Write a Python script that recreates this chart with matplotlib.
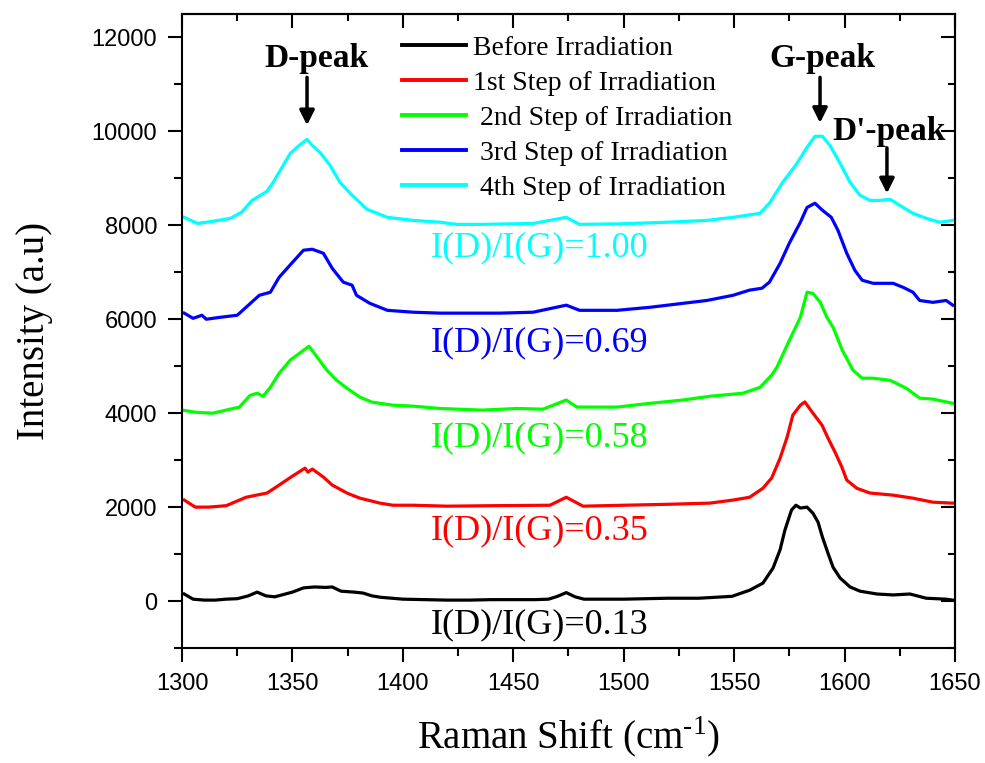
import matplotlib
matplotlib.use("Agg")
import matplotlib.pyplot as plt
from matplotlib.ticker import MultipleLocator

plt.rcParams["mathtext.fontset"] = "custom"
plt.rcParams["mathtext.rm"] = "Liberation Serif"

SERIF = "Liberation Serif"
SANS = "Liberation Sans"

# Raman spectra (cm^-1, intensity in a.u.), vertically stacked by 2000 per step
before_x = [1301, 1305, 1310, 1315, 1320, 1325, 1330, 1334, 1338, 1342, 1346, 1350, 1355, 1360,
            1365, 1368, 1372, 1378, 1382, 1386, 1390, 1395, 1400, 1410, 1420, 1430, 1440, 1450,
            1460, 1466, 1470, 1474, 1478, 1482, 1490, 1500, 1510, 1520, 1534, 1549, 1557, 1563,
            1567.6, 1570.8, 1573, 1576, 1578, 1580, 1583, 1585.7, 1588, 1590, 1592.5, 1594.8,
            1598, 1602.5, 1607, 1614.7, 1622, 1629.6, 1637, 1646, 1649]
before_y = [150, 40, 20, 20, 40, 50, 110, 190, 110, 90, 140, 190, 280, 300,
            290, 300, 210, 190, 170, 110, 80, 60, 40, 30, 20, 20, 30, 30,
            30, 40, 100, 180, 90, 40, 40, 40, 50, 60, 60, 100, 230, 380,
            700, 1090, 1510, 1940, 2040, 1980, 2000, 1870, 1680, 1360, 1020, 720,
            490, 300, 210, 150, 130, 150, 60, 40, 20]

step1_x = [1301, 1306, 1312, 1320, 1329, 1338.5, 1344, 1350, 1355.7, 1357, 1359, 1364, 1368,
           1374.7, 1377, 1380.6, 1389.6, 1395.5, 1404.6, 1420, 1440, 1466.6, 1474, 1481.6, 1500,
           1520, 1539, 1549.5, 1557, 1563, 1567, 1570.8, 1574, 1576.6, 1580, 1582, 1585.7,
           1589.8, 1592.5, 1595.7, 1598.8, 1601, 1605.6, 1611.5, 1622, 1631, 1640, 1649]
step1_y = [2150, 2000, 2000, 2030, 2210, 2300, 2470, 2660, 2830, 2745, 2810, 2640, 2470,
           2300, 2255, 2190, 2085, 2040, 2040, 2020, 2030, 2040, 2210, 2020, 2040,
           2060, 2085, 2150, 2210, 2400, 2620, 3040, 3490, 3960, 4170, 4240, 4000,
           3745, 3470, 3170, 2850, 2575, 2400, 2300, 2255, 2190, 2105, 2085]

step2_x = [1301, 1306, 1314, 1321.7, 1326, 1330.8, 1334, 1336.7, 1340, 1344, 1349, 1357.5,
           1365.6, 1370, 1374.7, 1380.6, 1386, 1395.5, 1404.6, 1416.8, 1436, 1451.7, 1463.4,
           1474, 1478.8, 1497, 1512, 1526.8, 1539, 1554, 1561.7, 1567, 1569.4, 1575, 1580,
           1583, 1585.7, 1589, 1592, 1594.8, 1599, 1603.8, 1608, 1612.9, 1620.6, 1628, 1634,
           1640, 1649]
step2_y = [4060, 4020, 4000, 4085, 4130, 4380, 4425, 4360, 4550, 4850, 5130, 5425,
           4915, 4700, 4530, 4340, 4235, 4170, 4150, 4100, 4065, 4100, 4085,
           4280, 4130, 4130, 4210, 4280, 4360, 4425, 4550, 4810, 4980, 5550, 6040,
           6575, 6550, 6360, 6040, 5830, 5340, 4915, 4745, 4745, 4700, 4530, 4320,
           4300, 4210]

step3_x = [1301, 1305, 1309, 1311, 1317, 1325, 1329, 1335, 1340, 1344, 1350, 1355, 1359, 1364,
           1368, 1373, 1377, 1379, 1385, 1393, 1404.6, 1417, 1430, 1444, 1459, 1474, 1480, 1497,
           1512, 1527, 1537.7, 1549.5, 1557, 1562.6, 1566, 1570.8, 1575, 1580, 1583, 1586.6,
           1590, 1594, 1597, 1601, 1604.7, 1608, 1613, 1622, 1626.5, 1631, 1634, 1640, 1646,
           1649]
step3_y = [6130, 6020, 6085, 6000, 6040, 6085, 6255, 6510, 6575, 6895, 7210, 7470, 7490, 7405,
           7085, 6790, 6725, 6510, 6340, 6190, 6150, 6130, 6130, 6130, 6150, 6300, 6190, 6190,
           6255, 6340, 6400, 6510, 6620, 6660, 6790, 7190, 7620, 8065, 8380, 8470,
           8320, 8170, 7895, 7405, 7040, 6830, 6765, 6765, 6680, 6575, 6400, 6360, 6400,
           6300]

step4_x = [1301, 1307, 1314, 1322, 1327, 1331.7, 1338.5, 1341, 1344, 1349, 1353, 1356.6, 1359,
           1362.5, 1367, 1371.5, 1377, 1383.8, 1393, 1404.6, 1417, 1424.5, 1436, 1459, 1474,
           1480, 1497, 1519.6, 1537.7, 1549.5, 1561.7, 1566, 1572, 1578.5, 1583, 1586.6, 1590,
           1593.4, 1598, 1602.5, 1607, 1611.5, 1616, 1620.6, 1625, 1631, 1637, 1643, 1649]
step4_y = [8170, 8040, 8085, 8150, 8280, 8530, 8725, 8895, 9130, 9530, 9700, 9830, 9700,
           9550, 9280, 8915, 8640, 8340, 8170, 8105, 8065, 8020, 8020, 8040, 8170,
           8020, 8030, 8065, 8105, 8170, 8255, 8470, 8915, 9320, 9660, 9895, 9895,
           9700, 9320, 8915, 8640, 8530, 8530, 8555, 8425, 8255, 8150, 8065, 8105]

series_labels = ["Before Irradiation", "1st Step of Irradiation", " 2nd Step of Irradiation",
                 " 3rd Step of Irradiation", " 4th Step of Irradiation"]
series_colors = ["#000000", "#ff0000", "#00ff00", "#0000ff", "#00ffff"]

ratio_labels = ["I(D)/I(G)=0.13", "I(D)/I(G)=0.35", "I(D)/I(G)=0.58",
                "I(D)/I(G)=0.69", "I(D)/I(G)=1.00"]
ratio_pos_y = [-500, 1500, 3480, 5500, 7520]
ratio_pos_x = 1462

peak_labels = ["D-peak", "G-peak", "D'-peak"]
peak_text_xy = [(1361, 11550), (1590, 11550), (1620, 10000)]
peak_arrow_x = [1356.6, 1588.9, 1619.2]
peak_arrow_tail = [11150, 11150, 9650]
peak_arrow_tip = [10130, 10180, 8680]

xs = [before_x, step1_x, step2_x, step3_x, step4_x]
ys = [before_y, step1_y, step2_y, step3_y, step4_y]

fig = plt.figure(figsize=(9.85, 7.63), dpi=100)
ax = fig.add_axes([0.1848, 0.1507, 0.7847, 0.8310])

for x, y, c, lab in zip(xs, ys, series_colors, series_labels):
    ax.plot(x, y, color=c, lw=2.3, label=lab, solid_joinstyle="round")

ax.set_xlim(1300, 1650)
ax.set_ylim(-1000, 12500)

ax.xaxis.set_major_locator(MultipleLocator(50))
ax.xaxis.set_minor_locator(MultipleLocator(25))
ax.yaxis.set_major_locator(MultipleLocator(2000))
ax.yaxis.set_minor_locator(MultipleLocator(1000))

for sp in ax.spines.values():
    sp.set_linewidth(1.5)

ax.tick_params(which="both", direction="out", top=False, right=False, width=1.5,
               labelsize=17, pad=8)
ax.tick_params(which="major", length=10)
ax.tick_params(which="minor", length=6)
for lbl in ax.get_xticklabels() + ax.get_yticklabels():
    lbl.set_fontfamily(SANS)

# mirrored inward ticks on the top and right edges
secx = ax.secondary_xaxis("top")
secx.xaxis.set_major_locator(MultipleLocator(50))
secx.xaxis.set_minor_locator(MultipleLocator(25))
secx.tick_params(which="both", direction="in", labeltop=False, width=1.5)
secx.tick_params(which="major", length=10)
secx.tick_params(which="minor", length=5)
secx.spines["top"].set_linewidth(1.5)
secy = ax.secondary_yaxis("right")
secy.yaxis.set_major_locator(MultipleLocator(2000))
secy.yaxis.set_minor_locator(MultipleLocator(1000))
secy.tick_params(which="both", direction="in", labelright=False, width=1.5)
secy.tick_params(which="major", length=10)
secy.tick_params(which="minor", length=5)
secy.spines["right"].set_linewidth(1.5)

ax.set_xlabel(r"Raman Shift (cm$^{\mathregular{\text{-}1}}$)", fontfamily=SERIF, fontsize=28,
              labelpad=14)
ax.set_ylabel("Intensity (a.u)", fontfamily=SERIF, fontsize=28, labelpad=28)

for txt, yy, c in zip(ratio_labels, ratio_pos_y, series_colors):
    ax.text(ratio_pos_x, yy, txt, color=c, fontfamily=SERIF, fontsize=26,
            ha="center", va="center")

for lab, (tx, ty), axp, t0, t1 in zip(peak_labels, peak_text_xy, peak_arrow_x,
                                       peak_arrow_tail, peak_arrow_tip):
    ax.text(tx, ty, lab, fontfamily=SERIF, fontweight="bold", fontsize=24,
            ha="center", va="center")
    ax.annotate("", xy=(axp, t1), xytext=(axp, t0),
                arrowprops=dict(arrowstyle="-|>", color="black", lw=2.5,
                                mutation_scale=22, shrinkA=0, shrinkB=0))

leg = ax.legend(loc="upper left", bbox_to_anchor=(0.2846, 0.966), frameon=False,
                prop={"family": SERIF, "size": 20}, handlelength=2.32,
                handletextpad=0.25, labelspacing=0.34, borderpad=0, borderaxespad=0)
for h in leg.get_lines():
    h.set_linewidth(2.8)

fig.savefig("out.png", dpi=100)
